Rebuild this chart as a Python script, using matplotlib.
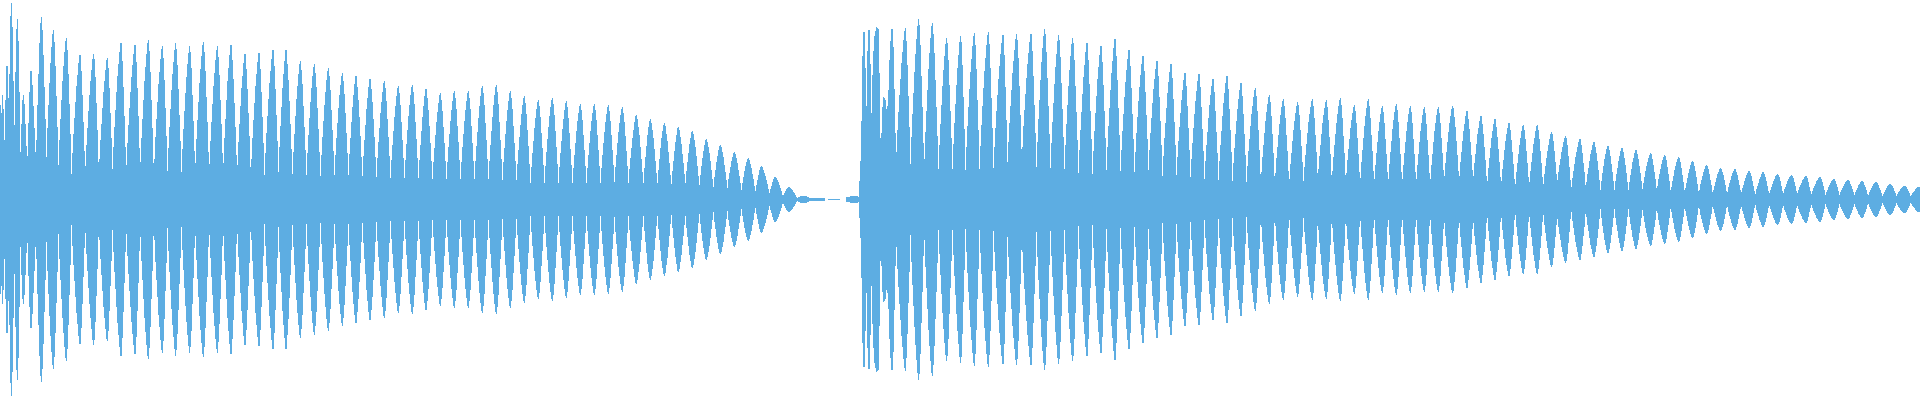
import matplotlib

matplotlib.use("Agg")
import matplotlib.pyplot as plt
import numpy as np
from matplotlib.patches import PathPatch
from matplotlib.path import Path

COLOR = "#5dade2"
BULGE = 0.75  # how far the lobe sides bow outwards between a dip and a peak

# envelope, one third of a pixel per unit, by 320 px block
peak_t_1 = [0, 7, 21, 34, 52, 70, 93, 124, 160, 199, 240, 281, 322, 363, 405, 445, 487, 527, 569, 610, 652, 693, 735, 777, 819, 858, 901, 943]
peak_a_1 = [283, 313, 398, 588, 541, 313, 383, 547, 508, 484, 433, 436, 424, 467, 463, 478, 458, 467, 458, 472, 458, 463, 436, 438, 448, 446, 415, 406]
dip_t_1 = [4, 14, 27, 43, 61, 82, 108, 139, 175, 214, 255, 296, 337, 378, 420, 461, 502, 544, 585, 627, 669, 711, 752, 793, 835, 877, 919]
dip_a_1 = [98, 93, 143, 80, 65, 43, 49, 68, 54, 31, 36, 37, 46, 38, 38, 31, 36, 33, 35, 35, 35, 33, 31, 28, 33, 30, 30]

peak_t_2 = [25, 67, 108, 150, 193, 235, 277, 318, 361, 403, 445, 487, 529, 571, 613, 655, 697, 739, 781, 823, 865, 907, 949]
peak_a_2 = [394, 378, 370, 361, 355, 340, 343, 331, 319, 325, 325, 340, 343, 325, 310, 298, 304, 295, 286, 286, 283, 277, 253]
dip_t_2 = [1, 43, 85, 127, 169, 211, 253, 295, 337, 379, 421, 463, 505, 547, 589, 631, 673, 715, 757, 799, 841, 883, 925]
dip_a_2 = [26, 33, 33, 28, 30, 28, 28, 26, 26, 26, 26, 23, 23, 23, 23, 16, 16, 16, 16, 16, 16, 23, 23]

peak_t_3 = [31, 73, 115, 157, 199, 241, 283, 325, 364, 406, 447, 490, 796, 836, 877, 920]
peak_a_3 = [241, 229, 217, 205, 181, 163, 142, 124, 100, 67, 37, 10, 514, 541, 529, 484]
dip_t_3 = [10, 52, 94, 136, 178, 220, 262, 304, 346, 388, 428, 470, 811, 852, 895, 937]
dip_a_3 = [20, 20, 18, 23, 20, 18, 18, 13, 10, 8, 3, 2, 50, 40, 40, 40]

# the silent gap and the second onset, where there are no regular lobes
onset_t = [510, 515, 525, 547, 555, 556, 562, 563, 600, 601, 617, 618, 625, 640, 650, 656, 659,
           660, 664, 667, 670, 674, 677, 680, 682, 686, 689, 692, 695, 697, 700, 704, 710, 715, 718,
           721, 724, 727, 731, 736, 739, 742, 746, 751, 756, 760, 763, 768]
onset_a = [2, 2, 3, 3, 2, 0, 0, 2, 2, 0, 0, 3, 7, 8, 10, 3, 8,
           55, 133, 283, 502, 502, 178, 178, 383, 508, 508, 203, 203, 313, 403, 483, 516, 508, 313,
           118, 98, 248, 307, 293, 258, 258, 298, 448, 511, 438, 278, 78]

peak_t_4 = [2, 43, 85, 129, 170, 213, 254, 296, 338, 381, 423, 465, 507, 549, 591, 633, 675, 717, 759, 801, 843, 886, 928]
peak_a_4 = [490, 499, 502, 493, 496, 496, 511, 493, 484, 469, 460, 481, 448, 430, 415, 406, 379, 376, 361, 370, 349, 334, 313]
dip_t_4 = [16, 58, 100, 142, 185, 229, 271, 313, 355, 397, 439, 481, 523, 565, 607, 649, 691, 733, 775, 817, 859, 902, 944]
dip_a_4 = [40, 43, 50, 65, 73, 43, 43, 40, 31, 31, 40, 40, 38, 49, 30, 34, 28, 25, 21, 20, 20, 20, 20]

peak_t_5 = [10, 53, 97, 139, 181, 223, 265, 307, 349, 391, 433, 475, 518, 561, 603, 645, 687, 730, 772, 815, 857, 900, 942]
peak_a_5 = [301, 292, 301, 298, 304, 283, 301, 280, 286, 280, 277, 277, 280, 265, 250, 241, 229, 223, 223, 202, 190, 181, 172]
dip_t_5 = [27, 70, 113, 155, 197, 240, 282, 324, 366, 408, 450, 492, 537, 579, 621, 663, 705, 747, 789, 831, 873, 917]
dip_a_5 = [16, 25, 33, 25, 23, 16, 16, 16, 16, 16, 16, 28, 30, 33, 16, 16, 11, 16, 16, 31, 11, 16]

peak_t_6 = [24, 66, 108, 152, 194, 236, 278, 320, 362, 405, 448, 490, 533, 575, 618, 660, 702, 744, 786, 828, 871, 914, 955]
peak_a_6 = [160, 154, 148, 139, 133, 127, 115, 103, 94, 91, 85, 82, 76, 73, 70, 67, 61, 58, 55, 52, 46, 40, 37]
dip_t_6 = [1, 43, 85, 127, 170, 212, 254, 296, 338, 381, 423, 465, 507, 549, 591, 633, 676, 718, 763, 804, 847, 889, 932, 960]
dip_a_6 = [10, 10, 10, 15, 13, 8, 8, 6, 6, 6, 8, 3, 6, 8, 8, 5, 6, 6, 5, 5, 3, 5, 3, 34]


def block(start, *pairs):
    t = np.concatenate([p[0] for p in pairs]) / 3 + start
    a = np.concatenate([p[1] for p in pairs]) / 3
    return t, a


parts = [
    block(0, (peak_t_1, peak_a_1), (dip_t_1, dip_a_1)),
    block(320, (peak_t_2, peak_a_2), (dip_t_2, dip_a_2)),
    block(640, (peak_t_3, peak_a_3), (dip_t_3, dip_a_3), (onset_t, onset_a)),
    block(960, (peak_t_4, peak_a_4), (dip_t_4, dip_a_4)),
    block(1280, (peak_t_5, peak_a_5), (dip_t_5, dip_a_5)),
    block(1600, (peak_t_6, peak_a_6), (dip_t_6, dip_a_6)),
]
t = np.concatenate([p[0] for p in parts])
a = np.concatenate([p[1] for p in parts])
straight = np.zeros(len(t), dtype=bool)
straight[np.isin(t, np.array(onset_t) / 3 + 640)] = True
order = np.argsort(t)
t, a, straight = t[order], a[order], straight[order]


def lobe_path(idx):
    # closed outline: upper edge left to right, then the mirror image back
    verts = [(t[idx[0]], a[idx[0]])]
    codes = [Path.MOVETO]

    def leg(i, j, sign):
        if straight[i] and straight[j]:
            verts.append((t[j], sign * a[j]))
            codes.append(Path.LINETO)
        else:
            lo, hi = min(a[i], a[j]), max(a[i], a[j])
            verts.append(((t[i] + t[j]) / 2, sign * (lo + BULGE * (hi - lo))))
            verts.append((t[j], sign * a[j]))
            codes.extend([Path.CURVE3, Path.CURVE3])

    for i, j in zip(idx[:-1], idx[1:]):
        leg(i, j, 1)
    verts.append((t[idx[-1]], -a[idx[-1]]))
    codes.append(Path.LINETO)
    for i, j in zip(idx[:0:-1], idx[-2::-1]):
        leg(i, j, -1)
    verts.append(verts[0])
    codes.append(Path.CLOSEPOLY)
    return Path(verts, codes)


fig = plt.figure(figsize=(19.2, 4), dpi=100)
ax = fig.add_axes([0, 0, 1, 1])
ax.axis("off")
ax.set_xlim(0, 1920)
ax.set_ylim(-200.5, 199.5)

# zero amplitude splits the signal into separate runs
nonzero = np.flatnonzero(a > 0)
for idx in np.split(nonzero, np.flatnonzero(np.diff(nonzero) > 1) + 1):
    ax.add_patch(PathPatch(lobe_path(idx), facecolor=COLOR, edgecolor="none", linewidth=0, antialiased=False))

plt.savefig("out.png", dpi=100)
